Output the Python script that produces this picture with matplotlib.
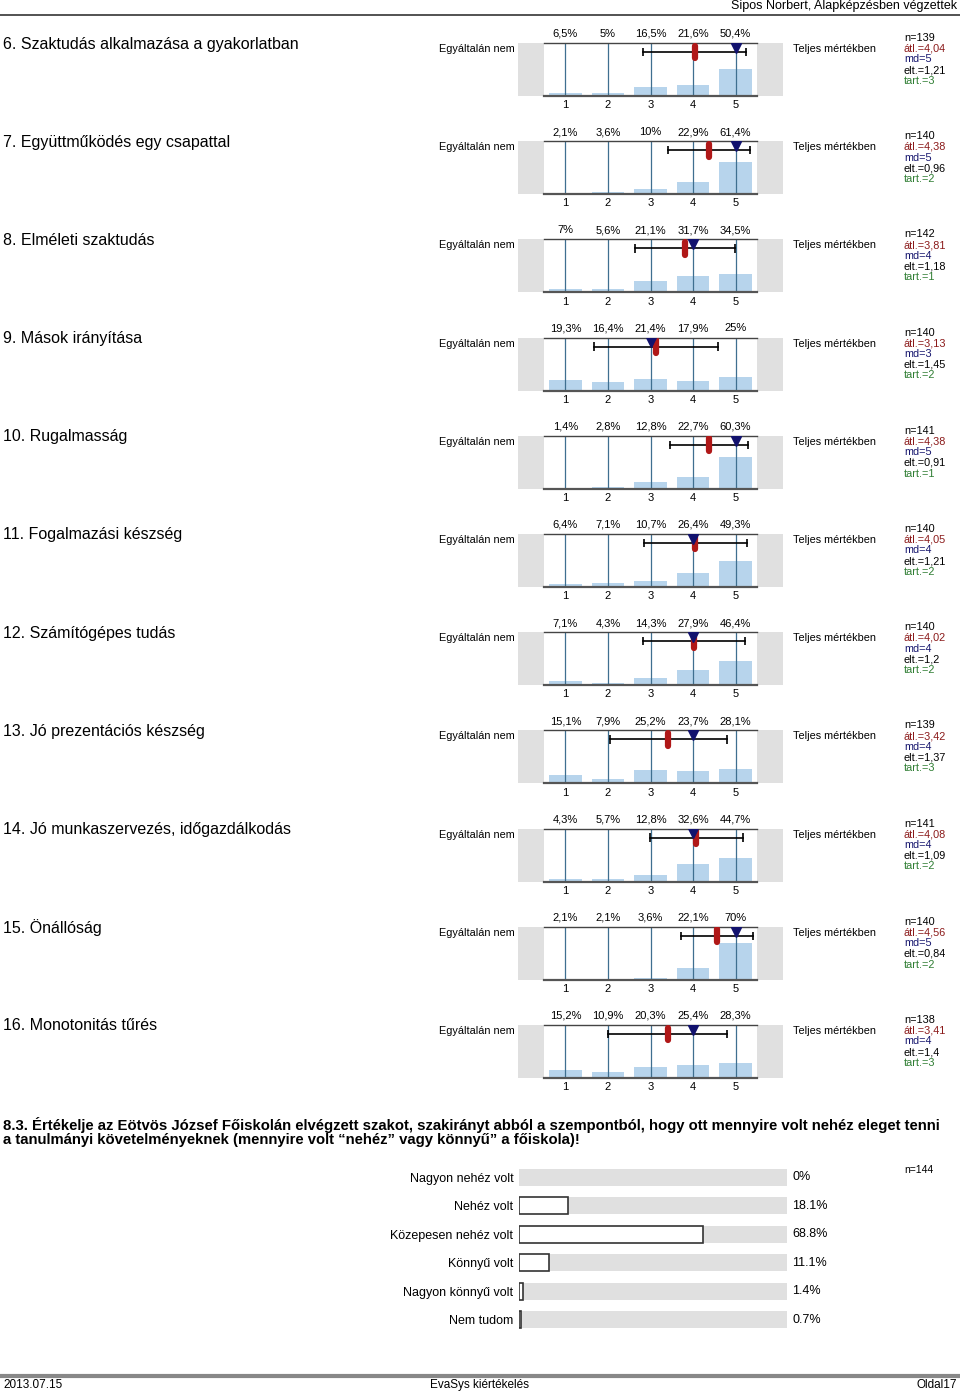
import numpy as np
import matplotlib
matplotlib.use("Agg")
import matplotlib.pyplot as plt
from matplotlib.lines import Line2D
from matplotlib.patches import Rectangle

plt.rcParams['font.family'] = ['Liberation Sans', 'DejaVu Sans']
NARROW = ['Liberation Sans Narrow', 'Liberation Sans', 'DejaVu Sans']

# --- data -------------------------------------------------------------
titles = ["6. Szaktudás alkalmazása a gyakorlatban",
          "7. Együttműködés egy csapattal",
          "8. Elméleti szaktudás",
          "9. Mások irányítása",
          "10. Rugalmasság",
          "11. Fogalmazási készség",
          "12. Számítógépes tudás",
          "13. Jó prezentációs készség",
          "14. Jó munkaszervezés, időgazdálkodás",
          "15. Önállóság",
          "16. Monotonitás tűrés"]
pcts = [[6.5, 5, 16.5, 21.6, 50.4],
        [2.1, 3.6, 10, 22.9, 61.4],
        [7, 5.6, 21.1, 31.7, 34.5],
        [19.3, 16.4, 21.4, 17.9, 25],
        [1.4, 2.8, 12.8, 22.7, 60.3],
        [6.4, 7.1, 10.7, 26.4, 49.3],
        [7.1, 4.3, 14.3, 27.9, 46.4],
        [15.1, 7.9, 25.2, 23.7, 28.1],
        [4.3, 5.7, 12.8, 32.6, 44.7],
        [2.1, 2.1, 3.6, 22.1, 70],
        [15.2, 10.9, 20.3, 25.4, 28.3]]
n_vals = [139, 140, 142, 140, 141, 140, 140, 139, 141, 140, 138]
means = [4.04, 4.38, 3.81, 3.13, 4.38, 4.05, 4.02, 3.42, 4.08, 4.56, 3.41]
medians = [5, 5, 4, 3, 5, 4, 4, 4, 4, 5, 4]
sds = [1.21, 0.96, 1.18, 1.45, 0.91, 1.21, 1.2, 1.37, 1.09, 0.84, 1.4]
abst = [3, 2, 1, 2, 1, 2, 2, 3, 2, 2, 3]
scale = [1, 2, 3, 4, 5]
left_label = "Egyáltalán nem"
right_label = "Teljes mértékben"

q_text = ("8.3. Értékelje az Eötvös József Főiskolán elvégzett szakot, szakirányt abból a szempontból, hogy ott mennyire volt nehéz eleget tenni\n"
          "a tanulmányi követelményeknek (mennyire volt “nehéz” vagy könnyű” a főiskola)!")
q_labels = ["Nagyon nehéz volt", "Nehéz volt", "Közepesen nehéz volt",
            "Könnyű volt", "Nagyon könnyű volt", "Nem tudom"]
q_pcts = [0, 18.1, 68.8, 11.1, 1.4, 0.7]
q_n = 144

W, H = 960, 1395
fig = plt.figure(figsize=(W / 100, H / 100), dpi=100)


def fx(x):
    return x / W


def fy(y):
    return 1 - y / H


def num(v):
    return f"{v:g}".replace(".", ",")


# header / footer
fig.text(fx(957), fy(6), "Sipos Norbert, Alapképzésben végzettek", ha='right', va='center', fontsize=9)
fig.add_artist(Line2D([0, 1], [fy(15), fy(15)], color='#444444', lw=1.3))
fig.add_artist(Line2D([0, 1], [fy(1376), fy(1376)], color='#888888', lw=3))
fig.text(fx(3), fy(1385), "2013.07.15", ha='left', va='center', fontsize=8.5, family=NARROW)
fig.text(fx(480), fy(1385), "EvaSys kiértékelés", ha='center', va='center', fontsize=8.5, family=NARROW)
fig.text(fx(957), fy(1385), "Oldal17", ha='right', va='center', fontsize=8.5, family=NARROW)

BAR_C = '#b7d4ec'
LINE_C = '#3f6f90'
GREY = '#e0e0e0'
x0, x1 = -0.115, 6.115

for i in range(len(titles)):
    off = i * 98.2
    top = 43 + off
    bot = 96 + off
    ax = fig.add_axes([fx(518), fy(bot), fx(783) - fx(518), (bot - top) / H])
    ax.set_xlim(x0, x1)
    ax.set_ylim(0, 100)
    ax.axis('off')
    ax.add_patch(Rectangle((x0, 0), 0.5 - x0, 100, color=GREY, lw=0))
    ax.add_patch(Rectangle((5.5, 0), x1 - 5.5, 100, color=GREY, lw=0))
    ax.bar(scale, pcts[i], width=0.76, color=BAR_C, zorder=1)
    ax.vlines(scale, 0, 100, color=LINE_C, lw=0.9, zorder=2)
    ax.plot([0.5, 5.5], [100, 100], color='#444444', lw=1.0, zorder=3, clip_on=False)
    ax.plot([0.5, 5.5], [0, 0], color='#555555', lw=1.6, zorder=3, clip_on=False)
    # mean +- sd
    m, s = means[i], sds[i]
    ey = 83
    ax.plot([m - s, m + s], [ey, ey], color='black', lw=1.2, zorder=4)
    ax.vlines([m - s, m + s], ey - 8, ey + 8, color='black', lw=1.2, zorder=4)
    ax.plot([m, m], [ey - 12, ey + 12], color='#b01818', lw=4.5, solid_capstyle='round', zorder=5)
    ax.plot([medians[i]], [ey + 8], marker='v', ms=7.5, color='#12126e', zorder=6)
    for k, p in zip(scale, pcts[i]):
        ax.annotate(num(p) + "%", (k, 100), xytext=(0, 3), textcoords='offset points',
                    ha='center', va='bottom', fontsize=8)
        ax.annotate(str(k), (k, 0), xytext=(0, -3), textcoords='offset points',
                    ha='center', va='top', fontsize=8)

    fig.text(fx(3), fy(44 + off), titles[i], ha='left', va='center', fontsize=11.5)
    fig.text(fx(515), fy(49 + off), left_label, ha='right', va='center', fontsize=7.8)
    fig.text(fx(793), fy(49 + off), right_label, ha='left', va='center', fontsize=7.8)
    stats = [(f"n={n_vals[i]}", 'black'), (f"átl.={num(means[i])}", '#8b1a1a'),
             (f"md={medians[i]}", '#16166e'), (f"elt.={num(sds[i])}", 'black'),
             (f"tart.={abst[i]}", '#2e7d32')]
    for j, (t, c) in enumerate(stats):
        fig.text(fx(904), fy(38 + off + j * 10.7), t, ha='left', va='center', fontsize=7.8, color=c)

# question 8.3
fig.text(fx(3), fy(1132), q_text, ha='left', va='center', fontsize=10.7, fontweight='bold',
         family=NARROW, linespacing=1.05)

bax = fig.add_axes([fx(519), fy(1334), fx(787) - fx(519), (1334 - 1163) / H])
ypos = np.arange(len(q_labels))[::-1]
bax.barh(ypos, [100] * len(q_labels), height=0.6, color=GREY, zorder=1)
for yp, p in zip(ypos, q_pcts):
    if p > 0:
        bax.barh(yp, p, height=0.6, color='white', edgecolor='#333333', lw=1.2, zorder=2)
    bax.annotate(f"{p:g}%", (100, yp), xytext=(4, 0), textcoords='offset points',
                 ha='left', va='center', fontsize=9, annotation_clip=False)
bax.set_xlim(0, 100)
bax.set_ylim(-0.5, len(q_labels) - 0.5)
bax.set_yticks(ypos)
bax.set_yticklabels(q_labels, fontsize=9)
bax.tick_params(axis='y', length=0, pad=4)
bax.set_xticks([])
for sp in bax.spines.values():
    sp.set_visible(False)
fig.text(fx(904), fy(1170), f"n={q_n}", ha='left', va='center', fontsize=7.5)

fig.savefig("out.png", dpi=100)
